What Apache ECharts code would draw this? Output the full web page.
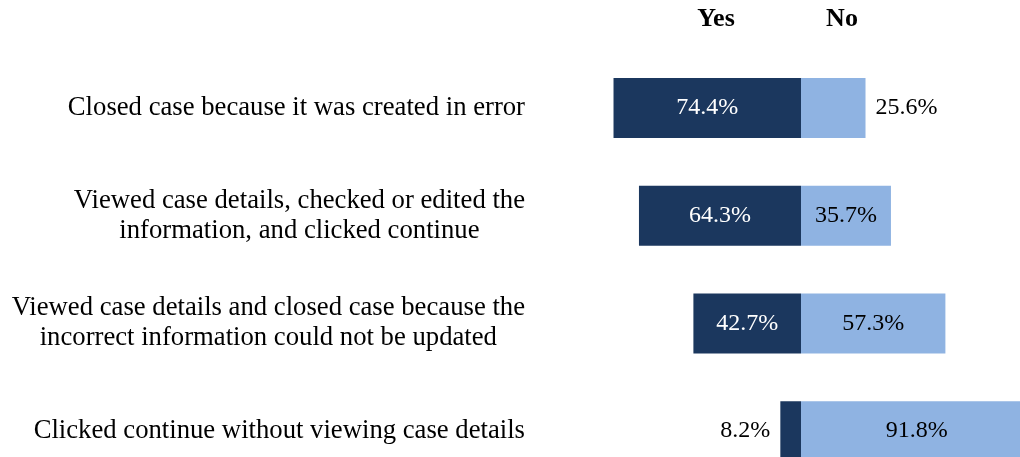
<!DOCTYPE html>
<html>
<head>
<meta charset="utf-8">
<script src="https://cdn.jsdelivr.net/npm/echarts@6/dist/echarts.min.js"></script>
<style>
  html, body { margin: 0; padding: 0; background: #fff; overflow: hidden; }
  #main { width: 1020px; height: 457px; }
</style>
</head>
<body>
<div id="main"></div>
<script>
// answers, top to bottom
const categories = [
  'Closed case because it was created in error',
  'Viewed case details, checked or edited the\ninformation, and clicked continue',
  'Viewed case details and closed case because the\nincorrect information could not be updated',
  'Clicked continue without viewing case details'
]
const seriesNames = ['Yes', 'No']
const yesValues = [74.4, 64.3, 42.7, 8.2]
const noValues = [25.6, 35.7, 57.3, 91.8]

const serif = '"Liberation Serif", "Times New Roman", serif'
const darkBlue = '#1b375e'
const lightBlue = '#8fb3e2'

/* bars that are too short get their label outside */
function toData(values, sign, side, insideColor) {
  return values.map(v => {
    const outside = v < 30
    return {
      value: sign * v,
      label: {
        position: outside ? side : 'inside',
        color: outside ? '#000' : insideColor
      }
    }
  })
}

const barLabel = {
  show: true,
  distance: 10,
  fontFamily: serif,
  fontSize: 24,
  formatter: p => Math.abs(p.value).toFixed(1) + '%'
}

const option = {
  animation: false,
  backgroundColor: '#fff',
  grid: {
    left: 549,
    top: 54,
    width: 504,
    height: 431,
    outerBoundsMode: 'none'
  },
  xAxis: {
    type: 'value',
    min: -100,
    max: 100,
    show: false
  },
  yAxis: {
    type: 'category',
    inverse: true,
    data: categories,
    axisLine: { show: false },
    axisTick: { show: false },
    axisLabel: {
      margin: 24,
      align: 'right',
      // every line centred inside the right-aligned block
      formatter: v => v.split('\n').map(s => '{c|' + s + '}').join('\n'),
      rich: {
        c: {
          align: 'center',
          fontFamily: serif,
          fontSize: 26.7,
          lineHeight: 30,
          color: '#000'
        }
      }
    }
  },
  graphic: [
    {
      type: 'text',
      x: 716,
      y: 19,
      style: {
        text: seriesNames[0],
        font: 'bold 26px ' + serif,
        fill: '#000',
        align: 'center',
        verticalAlign: 'middle'
      }
    },
    {
      type: 'text',
      x: 842,
      y: 19,
      style: {
        text: seriesNames[1],
        font: 'bold 26px ' + serif,
        fill: '#000',
        align: 'center',
        verticalAlign: 'middle'
      }
    }
  ],
  series: [
    {
      name: seriesNames[0],
      type: 'bar',
      stack: 'answer',
      barWidth: 60,
      itemStyle: { color: darkBlue },
      label: barLabel,
      data: toData(yesValues, -1, 'left', '#fff')
    },
    {
      name: seriesNames[1],
      type: 'bar',
      stack: 'answer',
      barWidth: 60,
      itemStyle: { color: lightBlue },
      label: barLabel,
      data: toData(noValues, 1, 'right', '#000')
    }
  ]
}

const myChart = echarts.init(document.getElementById('main'))
myChart.setOption(option)
</script>
</body>
</html>
